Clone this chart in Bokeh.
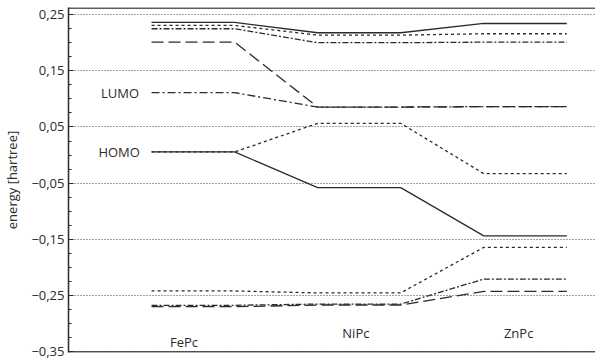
import numpy as np
from bokeh.plotting import figure
from bokeh.models import Span, FixedTicker, CustomJSTickFormatter, Range1d
from bokeh.embed import file_html
from bokeh.resources import INLINE
from bokeh.core.properties import value

# ---- data (energies in hartree) ----
molecules = ["FePc", "NiPc", "ZnPc"]
level_top_solid = [0.236, 0.2175, 0.234]
level_top_dash = [0.2305, 0.2133, 0.2157]
level_top_dashdot = [0.2246, 0.1998, 0.2008]
level_longdash = [0.2008, 0.0854, 0.0862]
lumo = [0.111, 0.0854, 0.0862]
homo_dash = [0.0056, 0.0565, -0.033]
homo = [0.0056, -0.0577, -0.1436]
level_low_dash = [-0.2415, -0.245, -0.164]
level_low_dashdot = [-0.267, -0.2648, -0.2204]
level_low_longdash = [-0.2695, -0.2665, -0.2423]
y_ticks = [-0.35, -0.25, -0.15, -0.05, 0.05, 0.15, 0.25]
level_names = ["LUMO", "HOMO"]

FONT = "Open Sans"
INK = "#2b2b2b"

p = figure(width=595, height=360, output_backend="svg", toolbar_location=None,
           x_range=Range1d(0, 533 / 84), y_range=Range1d(-0.3509, 0.2624),
           x_axis_location=None,
           min_border_left=62, min_border_right=0, min_border_top=7, min_border_bottom=8)
p.outline_line_color = None
p.background_fill_color = "white"
p.border_fill_color = "white"

minor = list(np.round(np.arange(-0.35, 0.2501, 0.025), 4))
ticker = FixedTicker(ticks=y_ticks, minor_ticks=minor)
yax = p.yaxis[0]
yax.ticker = ticker
yax.formatter = CustomJSTickFormatter(
    code="var s = Math.abs(tick).toFixed(2).replace('.', ','); return (tick < -1e-9 ? '\u2212' : '') + s;")
yax.axis_label = "energy [hartree]"
yax.axis_label_text_font = FONT
yax.axis_label_text_font_size = "13px"
yax.axis_label_text_font_style = "normal"
yax.axis_label_text_color = INK
yax.axis_label_standoff = 7
yax.major_label_text_font = FONT
yax.major_label_text_font_size = "13px"
yax.major_label_text_color = INK
yax.major_label_standoff = 4
yax.major_tick_in = 5
yax.major_tick_out = 0
yax.minor_tick_in = 3
yax.minor_tick_out = 0
yax.axis_line_width = 1.5
yax.axis_line_color = INK
yax.major_tick_line_color = INK
yax.minor_tick_line_color = INK

p.xgrid.visible = False
p.ygrid.ticker = ticker
p.ygrid.grid_line_color = "#444444"
p.ygrid.grid_line_dash = "1 2"
p.ygrid.grid_line_width = 1

# frame lines top and bottom
p.add_layout(Span(location=0.2615, dimension="width", line_color=INK, line_width=1.5))
p.add_layout(Span(location=-0.35, dimension="width", line_color=INK, line_width=1.5))


def path(vals):
    xs, ys = [], []
    for i, v in enumerate(vals):
        xs += [2 * i + 1, 2 * i + 2]
        ys += [v, v]
    return xs, ys


series = [
    (level_top_solid, "solid"),
    (level_top_dash, "3 3"),
    (level_top_dashdot, "6 2 2 2"),
    (level_longdash, "12 5"),
    (lumo, "8 3 2 3"),
    (homo_dash, "3 3"),
    (homo, "solid"),
    (level_low_dash, "3 3"),
    (level_low_dashdot, "6 2 2 2"),
    (level_low_longdash, "12 5"),
]
for vals, dash in series:
    xs, ys = path(vals)
    p.line(xs, ys, line_color=INK, line_width=1.3, line_dash=dash)

# molecule labels
p.text(x=[1.39, 3.46, 5.42], y=[-0.332, -0.316, -0.316], text=molecules,
       text_font=value(FONT), text_font_size="13px", text_color=INK,
       text_align="center", text_baseline="middle")

# LUMO / HOMO labels
p.text(x=[0.85, 0.86], y=[lumo[0], homo[0]], text=level_names,
       text_font=value(FONT), text_font_size="13px", text_color=INK,
       text_align="right", text_baseline="middle")

open("out.html", "w").write(file_html(p, INLINE))
